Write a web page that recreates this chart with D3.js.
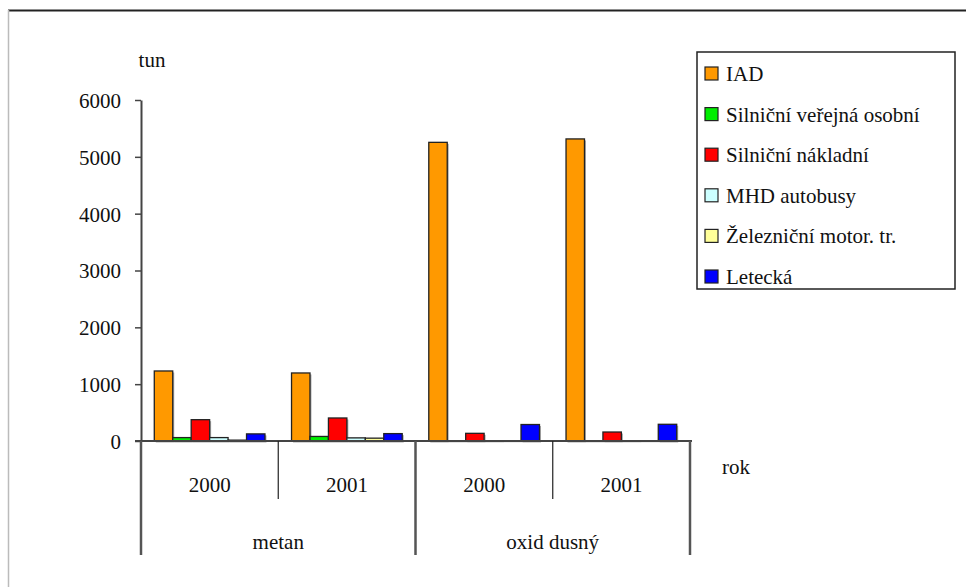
<!DOCTYPE html>
<html>
<head>
<meta charset="utf-8">
<script src="https://cdn.jsdelivr.net/npm/d3@7"></script>
<style>
  body { margin: 0; background: #fff; }
  svg text { font-family: "Times New Roman", "Liberation Serif", "DejaVu Serif", serif !important; fill: #111; }
</style>
</head>
<body>
<div id="chart"></div>
<script>
const width = 966, height = 587;
const margin = { top: 100, right: 276, bottom: 146, left: 141 };
const fontSize = "21px";

// Data
const groups = ["metan", "oxid dusný"];
const years = ["2000", "2001"];
const series = ["IAD", "Silniční veřejná osobní", "Silniční nákladní", "MHD autobusy", "Železniční motor. tr.", "Letecká"];
const seriesColors = ["#ff9900", "#00ee00", "#ff0000", "#ccffff", "#ffff99", "#0000ff"];
// values per category (group/year), in series order
const metan2000 = [1232, 60, 375, 60, 15, 125];
const metan2001 = [1197, 80, 405, 55, 50, 130];
const oxid2000 = [5255, 6, 135, 6, 4, 290];
const oxid2001 = [5315, 6, 158, 6, 4, 294];
const yTicks = [0, 1000, 2000, 3000, 4000, 5000, 6000];

const categories = [
    { group: groups[0], year: years[0], values: metan2000 },
    { group: groups[0], year: years[1], values: metan2001 },
    { group: groups[1], year: years[0], values: oxid2000 },
    { group: groups[1], year: years[1], values: oxid2001 }
];

const svg = d3.select("#chart")
    .append("svg")
    .attr("width", width)
    .attr("height", height);

// outer frame
svg.append("line").attr("x1", 8).attr("x2", width).attr("y1", 10.5).attr("y2", 10.5)
    .style("stroke", "#222").style("stroke-width", 2);
svg.append("line").attr("x1", 8.5).attr("x2", 8.5).attr("y1", 10).attr("y2", height)
    .style("stroke", "#bbb").style("stroke-width", 1.5);

const xScale = d3.scaleBand()
    .domain(d3.range(categories.length))
    .range([margin.left, width - margin.right])
    .paddingInner(0)
    .paddingOuter(0);

const xInner = d3.scaleBand()
    .domain(series)
    .range([0, xScale.bandwidth()])
    .paddingOuter(0.72)
    .paddingInner(0);

const yScale = d3.scaleLinear()
    .domain([0, 6000])
    .range([height - margin.bottom, margin.top]);

const color = d3.scaleOrdinal().domain(series).range(seriesColors);

// bars
const cat = svg.selectAll(".cat")
    .data(categories)
    .join("g")
    .attr("class", "cat")
    .attr("transform", (d, i) => `translate(${xScale(i)},0)`);

cat.selectAll("rect.shadow")
    .data(d => d.values.map((v, j) => ({ name: series[j], value: v })))
    .join("rect")
    .attr("class", "shadow")
    .attr("x", d => xInner(d.name) + 1.5)
    .attr("y", d => yScale(d.value) + 1.5)
    .attr("width", xInner.bandwidth())
    .attr("height", d => yScale(0) - yScale(d.value))
    .style("fill", "#aaa");

cat.selectAll("rect.bar")
    .data(d => d.values.map((v, j) => ({ name: series[j], value: v })))
    .join("rect")
    .attr("class", "bar")
    .attr("x", d => xInner(d.name))
    .attr("y", d => yScale(d.value))
    .attr("width", xInner.bandwidth())
    .attr("height", d => yScale(0) - yScale(d.value))
    .style("fill", d => color(d.name))
    .style("stroke", "#222")
    .style("stroke-width", 1.3);

// y axis
const yAxis = svg.append("g")
    .attr("transform", `translate(${margin.left},0)`)
    .call(d3.axisLeft(yScale).tickValues(yTicks).tickFormat(d3.format("d"))
        .tickSize(6).tickPadding(14).tickSizeOuter(0));
yAxis.select(".domain").style("stroke", "#444").style("stroke-width", 2);
yAxis.selectAll(".tick line").style("stroke", "#444").style("stroke-width", 1.5);
yAxis.selectAll(".tick text")
    .style("font-size", fontSize)
    .attr("dy", "0.35em");

// baseline
const y0 = yScale(0);
svg.append("line")
    .attr("x1", margin.left - 6).attr("x2", width - margin.right + 2)
    .attr("y1", y0).attr("y2", y0)
    .style("stroke", "#444").style("stroke-width", 2);

// category separators
const edges = d3.range(categories.length + 1);
svg.selectAll(".sep")
    .data(edges)
    .join("line")
    .attr("class", "sep")
    .attr("x1", i => i < categories.length ? xScale(i) : xScale(i - 1) + xScale.bandwidth())
    .attr("x2", i => i < categories.length ? xScale(i) : xScale(i - 1) + xScale.bandwidth())
    .attr("y1", y0)
    .attr("y2", i => i % 2 === 0 ? y0 + 114 : y0 + 58)
    .style("stroke", i => i % 2 === 0 ? "#555" : "#222")
    .style("stroke-width", i => i % 2 === 0 ? 2.5 : 1.2);

// year labels
svg.selectAll(".yearLabel")
    .data(categories)
    .join("text")
    .attr("class", "yearLabel")
    .attr("x", (d, i) => xScale(i) + xScale.bandwidth() / 2)
    .attr("y", y0 + 51)
    .attr("text-anchor", "middle")
    .style("font-size", fontSize)
    .text(d => d.year);

// group labels
svg.selectAll(".groupLabel")
    .data(groups)
    .join("text")
    .attr("class", "groupLabel")
    .attr("x", (d, i) => xScale(i * 2) + xScale.bandwidth())
    .attr("y", y0 + 108)
    .attr("text-anchor", "middle")
    .style("font-size", fontSize)
    .text(d => d);

// axis titles
svg.append("text").attr("x", 152).attr("y", 67).attr("text-anchor", "middle")
    .style("font-size", fontSize).text("tun");
svg.append("text").attr("x", 736).attr("y", 474).attr("text-anchor", "middle")
    .style("font-size", fontSize).text("rok");

// legend
const legend = svg.append("g").attr("transform", "translate(697,52)");
legend.append("rect")
    .attr("width", 258).attr("height", 237)
    .style("fill", "#fff").style("stroke", "#222").style("stroke-width", 1.5);

const legendY = d3.scalePoint().domain(series).range([21, 224]);

const item = legend.selectAll(".item")
    .data(series)
    .join("g")
    .attr("class", "item")
    .attr("transform", d => `translate(0,${legendY(d)})`);

item.append("rect")
    .attr("x", 8).attr("y", -6)
    .attr("width", 13).attr("height", 13)
    .style("fill", d => color(d))
    .style("stroke", "#222").style("stroke-width", 1.2);

item.append("text")
    .attr("x", 29).attr("y", 0).attr("dy", "0.38em")
    .style("font-size", fontSize)
    .text(d => d);
</script>
</body>
</html>
